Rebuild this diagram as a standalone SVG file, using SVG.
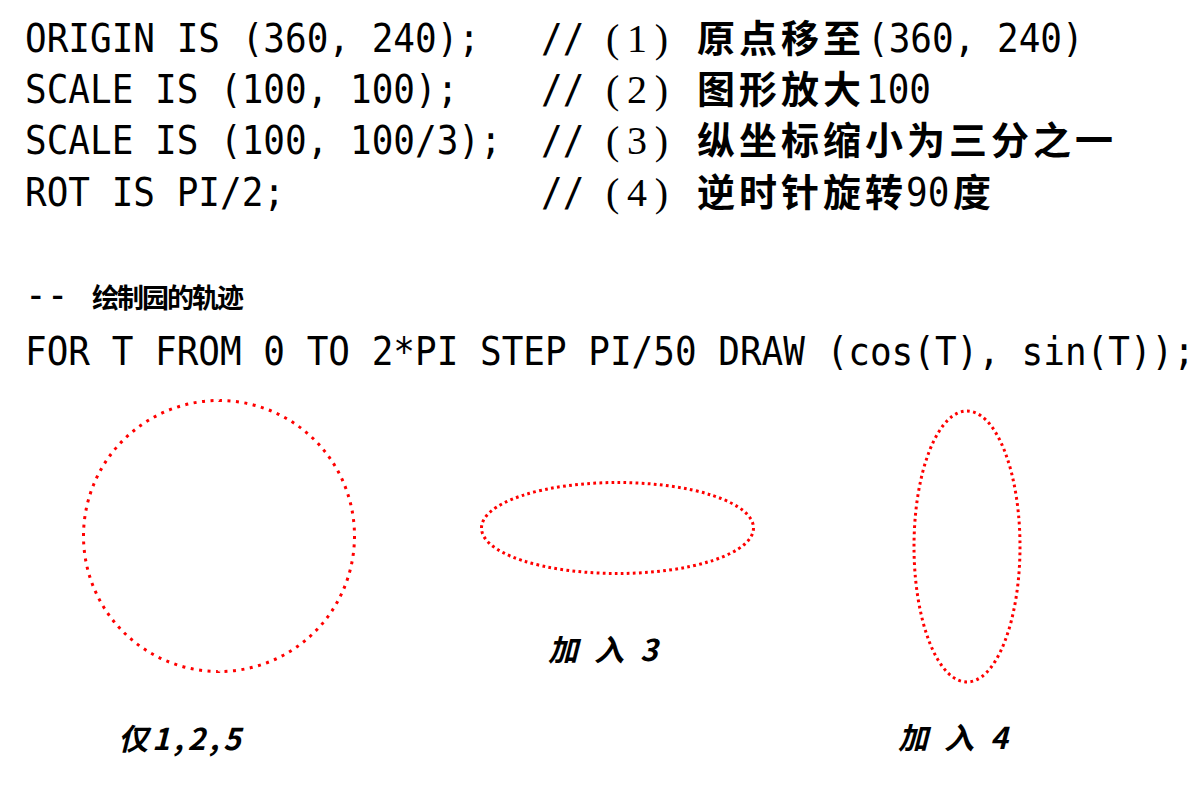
<svg xmlns="http://www.w3.org/2000/svg" width="1204" height="796" viewBox="0 0 1204 796">
<style>
.code{font-family:"DejaVu Sans Mono","Liberation Mono",monospace;font-size:36px;fill:#000}
.num{font-family:"Liberation Serif",serif;font-size:40px;fill:#000}
.cn{font-family:"Noto Sans CJK SC",sans-serif;font-size:38px;font-weight:700;fill:#000;letter-spacing:4px}
.cn2{font-family:"Noto Sans CJK SC",sans-serif;font-size:27px;font-weight:700;fill:#000}
.lab{font-family:"Noto Sans CJK SC",sans-serif;font-size:30px;font-weight:700;font-style:italic;fill:#000}
.dot{fill:none;stroke:#ff0000;stroke-width:3}
</style>
<rect width="1204" height="796" fill="#fff"/>
<g id="code" transform="scale(1,1.1)">
<text class="code" x="25" y="47.3">ORIGIN IS (360, 240);</text>
<text class="code" x="25" y="93.6">SCALE IS (100, 100);</text>
<text class="code" x="25" y="140">SCALE IS (100, 100/3);</text>
<text class="code" x="25" y="187.3">ROT IS PI/2;</text>
</g>
<g id="comments">
<g transform="scale(1,1.1)">
<text class="code" x="541" y="47.3">//</text>
<text class="code" x="541" y="93.6">//</text>
<text class="code" x="541" y="140">//</text>
<text class="code" x="541" y="187.3">//</text>
<text class="code" x="867" y="47.3">(360, 240)</text>
<text class="code" x="866" y="93.6">100</text>
<text class="code" x="906" y="187.3">90</text>
</g>
<text class="num" x="606" y="52" textLength="62" lengthAdjust="spacing">(1)</text>
<text class="num" x="606" y="103" textLength="62" lengthAdjust="spacing">(2)</text>
<text class="num" x="606" y="154" textLength="62" lengthAdjust="spacing">(3)</text>
<text class="num" x="606" y="206" textLength="62" lengthAdjust="spacing">(4)</text>
<text class="cn" x="697" y="52">原点移至</text>
<text class="cn" x="697" y="103">图形放大</text>
<text class="cn" x="697" y="154">纵坐标缩小为三分之一</text>
<text class="cn" x="697" y="206">逆时针旋转</text>
<text class="cn" x="953" y="206">度</text>
</g>
<g id="loop">
<g transform="scale(1,1.1)">
<text class="code" x="25" y="280">--</text>
<text class="code" x="25" y="331.8">FOR T FROM 0 TO 2*PI STEP PI/50 DRAW (cos(T), sin(T));</text>
</g>
<text class="cn2" x="92" y="308" letter-spacing="-2">绘制园的轨迹</text>
</g>
<g id="circle">
<circle class="dot" cx="219" cy="536" r="135.5" pathLength="100" stroke-dasharray="0.35 0.65"/>
<text class="lab" x="118" y="750" letter-spacing="4">仅1,2,5</text>
</g>
<g id="ellipse-h">
<ellipse class="dot" cx="617.5" cy="528" rx="136" ry="45.5" pathLength="100" stroke-dasharray="0.45 0.55"/>
<text class="lab" x="548" y="661" letter-spacing="16">加入3</text>
</g>
<g id="ellipse-v">
<ellipse class="dot" cx="967" cy="546.5" rx="53" ry="135.5" pathLength="100" stroke-dasharray="0.44 0.56"/>
<text class="lab" x="898" y="749" letter-spacing="16">加入4</text>
</g>
</svg>
